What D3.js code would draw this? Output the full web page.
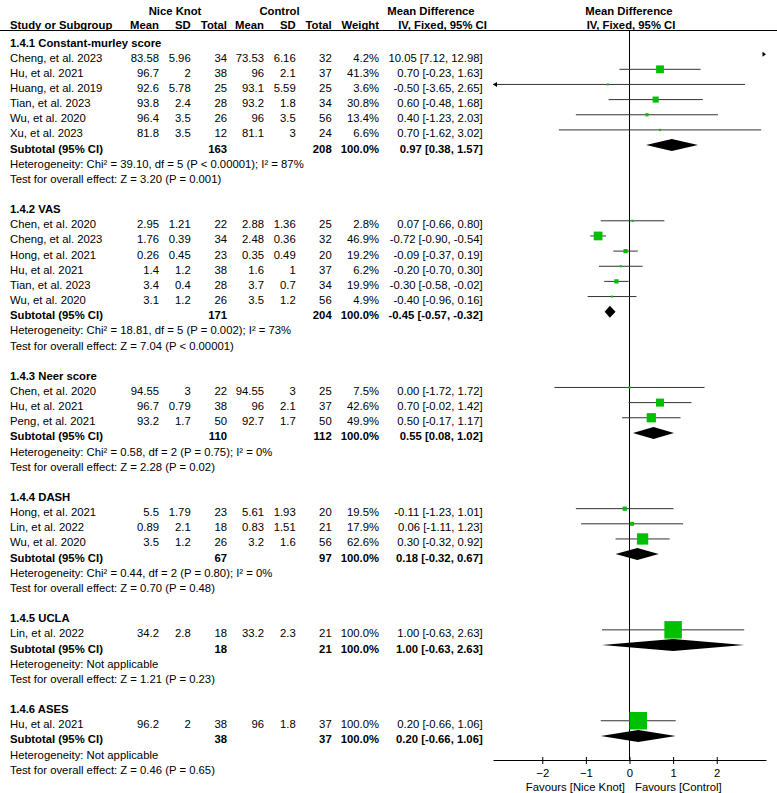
<!DOCTYPE html>
<html><head><meta charset="utf-8">
<script src="https://cdn.jsdelivr.net/npm/d3@7"></script>
<style>
html,body{margin:0;padding:0;background:#fff;}
svg text{font-family:"Liberation Sans",Arial,sans-serif;font-size:11.3px;fill:#000;}
</style></head>
<body><svg id="chart" width="777" height="793"></svg>
<script>
// ---------------- DATA ----------------
const groupTitles = ["1.4.1 Constant-murley score","1.4.2 VAS","1.4.3 Neer score","1.4.4 DASH","1.4.5 UCLA","1.4.6 ASES"];
const studyNames = [
  "Cheng, et al. 2023","Hu, et al. 2021","Huang, et al. 2019","Tian, et al. 2023","Wu, et al. 2020","Xu, et al. 2023",
  "Chen, et al. 2020","Cheng, et al. 2023","Hong, et al. 2021","Hu, et al. 2021","Tian, et al. 2023","Wu, et al. 2020",
  "Chen, et al. 2020","Hu, et al. 2021","Peng, et al. 2021",
  "Hong, et al. 2021","Lin, et al. 2022","Wu, et al. 2020",
  "Lin, et al. 2022",
  "Hu, et al. 2021"];
const studyGroup = [0,0,0,0,0,0, 1,1,1,1,1,1, 2,2,2, 3,3,3, 4, 5];
const nkMean  = [83.58,96.7,92.6,93.8,96.4,81.8, 2.95,1.76,0.26,1.4,3.4,3.1, 94.55,96.7,93.2, 5.5,0.89,3.5, 34.2, 96.2];
const nkSD    = [5.96,2,5.78,2.4,3.5,3.5, 1.21,0.39,0.45,1.2,0.4,1.2, 3,0.79,1.7, 1.79,2.1,1.2, 2.8, 2];
const nkTotal = [34,38,25,28,26,12, 22,34,23,38,28,26, 22,38,50, 23,18,26, 18, 38];
const ctMean  = [73.53,96,93.1,93.2,96,81.1, 2.88,2.48,0.35,1.6,3.7,3.5, 94.55,96,92.7, 5.61,0.83,3.2, 33.2, 96];
const ctSD    = [6.16,2.1,5.59,1.8,3.5,3, 1.36,0.36,0.49,1,0.7,1.2, 3,2.1,1.7, 1.93,1.51,1.6, 2.3, 1.8];
const ctTotal = [32,37,25,34,56,24, 25,32,20,37,34,56, 25,37,50, 20,21,56, 21, 37];
const weights = [4.2,41.3,3.6,30.8,13.4,6.6, 2.8,46.9,19.2,6.2,19.9,4.9, 7.5,42.6,49.9, 19.5,17.9,62.6, 100.0, 100.0];
const mdEst   = [10.05,0.70,-0.50,0.60,0.40,0.70, 0.07,-0.72,-0.09,-0.20,-0.30,-0.40, 0.00,0.70,0.50, -0.11,0.06,0.30, 1.00, 0.20];
const mdLow   = [7.12,-0.23,-3.65,-0.48,-1.23,-1.62, -0.66,-0.90,-0.37,-0.70,-0.58,-0.96, -1.72,-0.02,-0.17, -1.23,-1.11,-0.32, -0.63, -0.66];
const mdHigh  = [12.98,1.63,2.65,1.68,2.03,3.02, 0.80,-0.54,0.19,0.30,-0.02,0.16, 1.72,1.42,1.17, 1.01,1.23,0.92, 2.63, 1.06];

const subNkTotal = [163,171,110,67,18,38];
const subCtTotal = [208,204,112,97,21,37];
const subWeight  = [100.0,100.0,100.0,100.0,100.0,100.0];
const subEst  = [0.97,-0.45,0.55,0.18,1.00,0.20];
const subLow  = [0.38,-0.57,0.08,-0.32,-0.63,-0.66];
const subHigh = [1.57,-0.32,1.02,0.67,2.63,1.06];
const heterogeneity = [
  "Heterogeneity: Chi\u00b2 = 39.10, df = 5 (P < 0.00001); I\u00b2 = 87%",
  "Heterogeneity: Chi\u00b2 = 18.81, df = 5 (P = 0.002); I\u00b2 = 73%",
  "Heterogeneity: Chi\u00b2 = 0.58, df = 2 (P = 0.75); I\u00b2 = 0%",
  "Heterogeneity: Chi\u00b2 = 0.44, df = 2 (P = 0.80); I\u00b2 = 0%",
  "Heterogeneity: Not applicable",
  "Heterogeneity: Not applicable"];
const overallEffect = [
  "Test for overall effect: Z = 3.20 (P = 0.001)",
  "Test for overall effect: Z = 7.04 (P < 0.00001)",
  "Test for overall effect: Z = 2.28 (P = 0.02)",
  "Test for overall effect: Z = 0.70 (P = 0.48)",
  "Test for overall effect: Z = 1.21 (P = 0.23)",
  "Test for overall effect: Z = 0.46 (P = 0.65)"];
const tickValues = [-2,-1,0,1,2];
const favourLeft = "Favours [Nice Knot]";
const favourRight = "Favours [Control]";

// ---------------- LAYOUT ----------------
const svg = d3.select("#chart");
const col = {name:10, nkMean:159, nkSD:190.7, nkTot:227, ctMean:264, ctSD:295.7, ctTot:331.7, w:379, ci:482.7};
const x = d3.scaleLinear().domain([-3.13,3.13]).range([493,766]);
const boxSize = d3.scaleLinear().domain([0,100]).range([1,17.5]);
const rowY = i => 39 + i*15.15;
const BASE = 7.5;
const fmt2 = v => v.toFixed(2);
const ciText = (e,l,h) => `${fmt2(e)} [${fmt2(l)}, ${fmt2(h)}]`;

function txt(xp, y, s, anchor, bold){
  svg.append("text").attr("x",xp).attr("y",y).attr("text-anchor",anchor||"start")
    .attr("font-weight",bold?"bold":null).text(s);
}

// header
txt(175,14.5,"Nice Knot","middle",true);
txt(279.5,14.5,"Control","middle",true);
txt(431,14.5,"Mean Difference","middle",true);
txt(629,14.5,"Mean Difference","middle",true);
txt(col.name,28.5,"Study or Subgroup","start",true);
txt(col.nkMean,28.5,"Mean","end",true);
txt(col.nkSD,28.5,"SD","end",true);
txt(col.nkTot,28.5,"Total","end",true);
txt(col.ctMean,28.5,"Mean","end",true);
txt(col.ctSD,28.5,"SD","end",true);
txt(col.ctTot,28.5,"Total","end",true);
txt(col.w,28.5,"Weight","end",true);
txt(442.5,28.5,"IV, Fixed, 95% CI","middle",true);
txt(631,28.5,"IV, Fixed, 95% CI","middle",true);
svg.append("line").attr("x1",0).attr("x2",777).attr("y1",30.5).attr("y2",30.5).attr("stroke","#000").attr("stroke-width",1);

// zero line
svg.append("line").attr("x1",x(0)).attr("x2",x(0)).attr("y1",30.5).attr("y2",760).attr("stroke","#000").attr("stroke-width",1);

const [xmin,xmax] = x.domain();
let r = 0;
groupTitles.forEach((title,g)=>{
  txt(col.name,rowY(r)+BASE,title,"start",true); r++;
  studyNames.forEach((nm,i)=>{
    if(studyGroup[i]!==g) return;
    const y = rowY(r), b = y+BASE;
    txt(col.name,b,nm);
    txt(col.nkMean,b,String(nkMean[i]),"end");
    txt(col.nkSD,b,String(nkSD[i]),"end");
    txt(col.nkTot,b,String(nkTotal[i]),"end");
    txt(col.ctMean,b,String(ctMean[i]),"end");
    txt(col.ctSD,b,String(ctSD[i]),"end");
    txt(col.ctTot,b,String(ctTotal[i]),"end");
    txt(col.w,b,weights[i].toFixed(1)+"%","end");
    txt(col.ci,b,ciText(mdEst[i],mdLow[i],mdHigh[i]),"end");
    // CI
    const lo = Math.max(mdLow[i],xmin), hi = Math.min(mdHigh[i],xmax);
    if(lo<hi){
      svg.append("line").attr("x1",x(lo)).attr("x2",x(hi)).attr("y1",y).attr("y2",y)
        .attr("stroke","#333").attr("stroke-width",1);
    }
    if(mdLow[i]<xmin){
      const ax = x(xmin);
      svg.append("path").attr("d",`M${ax},${y}L${ax+4},${y-2.5}L${ax+4},${y+2.5}Z`).attr("fill","#000");
    }
    if(mdHigh[i]>xmax){
      const ax = x(xmax);
      svg.append("path").attr("d",`M${ax},${y}L${ax-3.5},${y-2.5}L${ax-3.5},${y+2.5}Z`).attr("fill","#000");
    }
    if(mdEst[i]>=xmin && mdEst[i]<=xmax){
      const s = Math.max(2,boxSize(weights[i]));
      svg.append("rect").attr("x",x(mdEst[i])-s/2).attr("y",y-s/2).attr("width",s).attr("height",s)
        .attr("fill","#00c000");
    }
    r++;
  });
  // subtotal
  const y = rowY(r), b = y+BASE;
  txt(col.name,b,"Subtotal (95% CI)","start",true);
  txt(col.nkTot,b,String(subNkTotal[g]),"end",true);
  txt(col.ctTot,b,String(subCtTotal[g]),"end",true);
  txt(col.w,b,subWeight[g].toFixed(1)+"%","end",true);
  txt(col.ci,b,ciText(subEst[g],subLow[g],subHigh[g]),"end",true);
  svg.append("path").attr("d",`M${x(subLow[g])},${y}L${x(subEst[g])},${y-6}L${x(subHigh[g])},${y}L${x(subEst[g])},${y+6}Z`)
    .attr("fill","#000");
  r++;
  txt(col.name,rowY(r)+BASE,heterogeneity[g]); r++;
  txt(col.name,rowY(r)+BASE,overallEffect[g]); r++;
  r++; // blank
});

// axis
const axisY = 760;
const ax = svg.append("g").attr("transform",`translate(0,${axisY})`)
  .call(d3.axisBottom(x).tickValues(tickValues).tickSizeOuter(0).tickSizeInner(4).tickFormat(d3.format("d")));
ax.select(".domain").attr("stroke","#000");
ax.selectAll(".tick line").attr("y1",-3).attr("y2",4).attr("stroke","#000");
ax.selectAll(".tick text").attr("y",17).attr("dy",null).attr("font-size",null).attr("font-family",null).style("font-size","11.3px");
ax.attr("font-size",null).attr("font-family",null);
txt(625,790.5,favourLeft,"end");
txt(635,790.5,favourRight,"start");
</script></body></html>
